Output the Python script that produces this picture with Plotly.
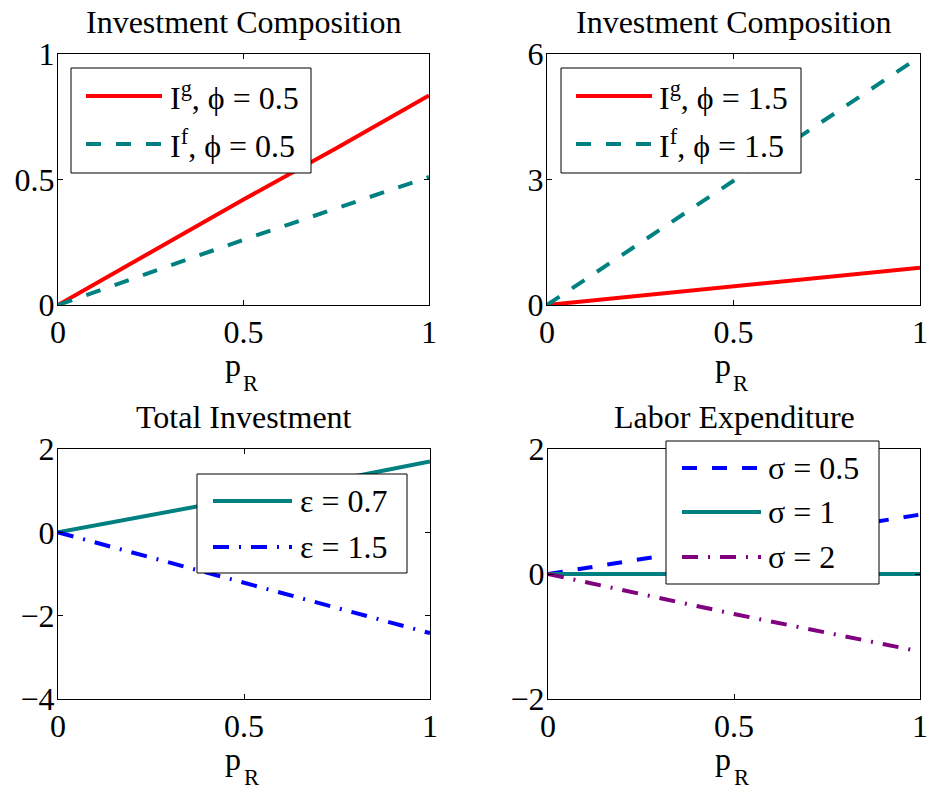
import plotly.graph_objects as go

W, H = 928, 791

# ---------------- data ----------------
p_R = [0, 0.25, 0.5, 0.75, 1.0]
ig_phi05 = [0, 0.21, 0.42, 0.625, 0.835]
if_phi05 = [0, 0.13, 0.26, 0.385, 0.51]
ig_phi15 = [0, 0.22, 0.45, 0.67, 0.89]
if_phi15 = [0, 1.49, 2.98, 4.46, 5.94]
tot_eps07 = [0, 0.41, 0.83, 1.26, 1.70]
tot_eps15 = [0, -0.61, -1.22, -1.82, -2.42]
lab_sig05 = [0, 0.24, 0.48, 0.72, 0.95]
lab_sig1 = [0, 0, 0, 0, 0]
lab_sig2 = [0, -0.32, -0.64, -0.94, -1.24]

titles = ["Investment Composition", "Investment Composition",
          "Total Investment", "Labor Expenditure"]
y_ranges = [[0, 1], [0, 6], [-4, 2], [-2, 2]]
y_ticks = [[0, 0.5, 1], [0, 3, 6], [-4, -2, 0, 2], [-2, 0, 2]]
y_ticktext = [["0", "0.5", "1"], ["0", "3", "6"],
              ["\u22124", "\u22122", "0", "2"], ["\u22122", "0", "2"]]
x_ticks = [0, 0.5, 1]
x_ticktext = ["0", "0.5", "1"]

RED = "#ff0000"
TEAL = "#008080"
BLUE = "#0000ff"
PURPLE = "#800080"
DASH = "15px,15px"
DASHDOT = "16px,10px,2px,10px"
LW = 4
FONT = "Liberation Serif, Times New Roman, serif"
FS = 32
FS_SUB = 22.5
PHI = "\u03d5"

# series: (subplot index, y values, color, dash, legend label)
series = [
    (0, ig_phi05, RED, "solid", "I<sup>g</sup>, " + PHI + " = 0.5"),
    (0, if_phi05, TEAL, DASH, "I<sup>f</sup>, " + PHI + " = 0.5"),
    (1, ig_phi15, RED, "solid", "I<sup>g</sup>, " + PHI + " = 1.5"),
    (1, if_phi15, TEAL, DASH, "I<sup>f</sup>, " + PHI + " = 1.5"),
    (2, tot_eps07, TEAL, "solid", "\u03b5 = 0.7"),
    (2, tot_eps15, BLUE, DASHDOT, "\u03b5 = 1.5"),
    (3, lab_sig05, BLUE, DASH, "\u03c3 = 0.5"),
    (3, lab_sig1, TEAL, "solid", "\u03c3 = 1"),
    (3, lab_sig2, PURPLE, DASHDOT, "\u03c3 = 2"),
]

# ---------------- layout geometry (pixels) ----------------
axes_px = [  # x0, x1, y0(top), y1(bottom)
    (58, 429, 54, 305),
    (547, 920, 54, 305),
    (58, 430, 449, 699),
    (548, 920, 449, 699),
]
# legend boxes: x0, x1, y0, y1, sample x0, sample x1, text x, row ys
legend_px = [
    (71, 311, 68, 173, 86, 162, 168, [96, 144]),
    (561, 801, 68, 173, 576, 652, 657, [96, 144]),
    (197, 407, 474, 573, 213, 292, 298, [501, 547]),
    (666, 879, 441, 584, 682, 761, 766, [468, 512, 557]),
]


def px(x):
    return x / W


def py(y):
    return 1 - y / H


fig = go.Figure()

for i, (x0, x1, y0, y1) in enumerate(axes_px):
    n = "" if i == 0 else str(i + 1)
    common = dict(showline=True, linecolor="black", linewidth=1,
                  mirror="ticks", ticks="inside", ticklen=5, tickcolor="black",
                  tickwidth=1, showgrid=False, zeroline=False, automargin=False,
                  tickfont=dict(family=FONT, size=FS, color="black"))
    fig.layout["xaxis" + n] = dict(domain=[px(x0), px(x1)], range=[0, 1],
                                   tickvals=x_ticks, ticktext=x_ticktext,
                                   anchor="y" + n, ticklabelstandoff=-1, **common)
    fig.layout["yaxis" + n] = dict(domain=[py(y1), py(y0)], range=y_ranges[i],
                                   tickvals=y_ticks[i], ticktext=y_ticktext[i],
                                   anchor="x" + n, ticklabelstandoff=-4, **common)
    fig.add_annotation(text=titles[i], xref="x" + n + " domain", yref="y" + n + " domain",
                       x=0.5, y=1, yanchor="bottom", xanchor="center", yshift=12,
                       showarrow=False, font=dict(family=FONT, size=FS, color="black"))
    # axis label p_R (p and a lowered R subscript)
    fig.add_annotation(text="p", xref="x" + n + " domain", yref="y" + n + " domain",
                       x=0.5, y=0, yanchor="top", xanchor="center", yshift=-40, xshift=-11,
                       showarrow=False, font=dict(family=FONT, size=FS, color="black"))
    fig.add_annotation(text="R", xref="x" + n + " domain", yref="y" + n + " domain",
                       x=0.5, y=0, yanchor="top", xanchor="center", yshift=-64, xshift=7,
                       showarrow=False, font=dict(family=FONT, size=FS_SUB, color="black"))

for (k, yv, col, dash, label) in series:
    n = "" if k == 0 else str(k + 1)
    fig.add_trace(go.Scatter(x=p_R, y=yv, mode="lines", name=label,
                             line=dict(color=col, width=LW, dash=dash),
                             xaxis="x" + n, yaxis="y" + n, showlegend=False))

# legends drawn as boxes + sample lines + text
for k, (bx0, bx1, by0, by1, sx0, sx1, tx, rows) in enumerate(legend_px):
    fig.add_shape(type="rect", xref="paper", yref="paper",
                  x0=px(bx0), x1=px(bx1), y0=py(by1), y1=py(by0),
                  fillcolor="white", line=dict(color="black", width=1), layer="above")
    entries = [s for s in series if s[0] == k]
    for (row_y, (_, _, col, dash, label)) in zip(rows, entries):
        fig.add_shape(type="line", xref="paper", yref="paper",
                      x0=px(sx0), x1=px(sx1), y0=py(row_y), y1=py(row_y),
                      line=dict(color=col, width=LW, dash=dash), layer="above")
        fig.add_annotation(text=label, xref="paper", yref="paper",
                           x=px(tx), y=py(row_y), xanchor="left", yanchor="middle",
                           showarrow=False, font=dict(family=FONT, size=FS, color="black"))

fig.update_layout(width=W, height=H, margin=dict(l=0, r=0, t=0, b=0, autoexpand=False),
                  paper_bgcolor="white", plot_bgcolor="white", showlegend=False,
                  font=dict(family=FONT, size=FS, color="black"))

fig.write_html("out.html", config={"displayModeBar": False},
               post_script="document.body.style.margin='0';document.body.style.overflow='hidden';")
